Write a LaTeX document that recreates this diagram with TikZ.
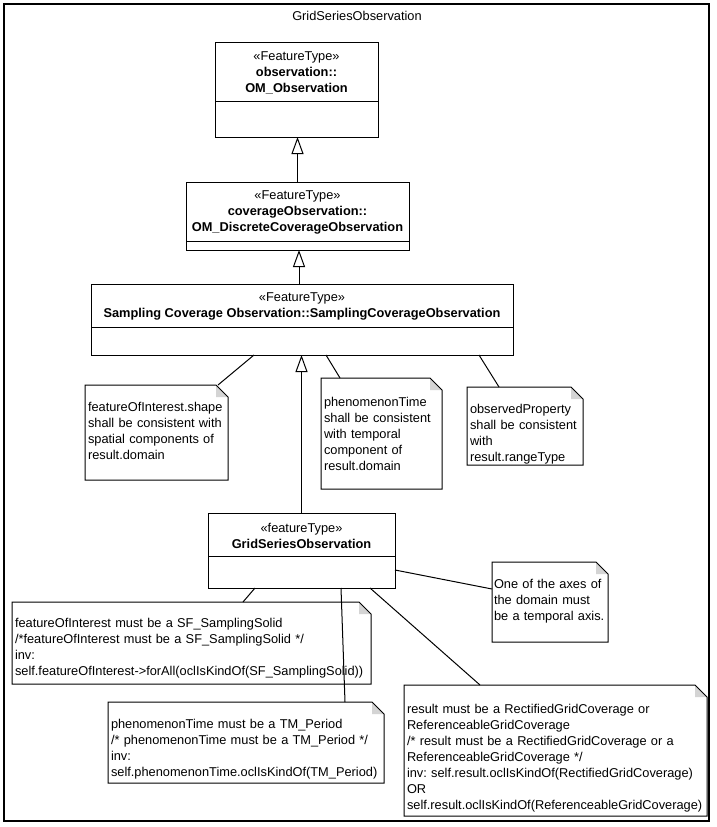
\documentclass[tikz,border=0pt]{standalone}
\usepackage{fontspec}
\setmainfont{Liberation Sans}
\usepackage{tikz}
\usetikzlibrary{arrows.meta,calc}
\definecolor{UMLfold}{HTML}{D4D4D4}
\newcommand{\umlfont}{\fontsize{12.8}{16}\selectfont\frenchspacing}
\hyphenpenalty=10000
\exhyphenpenalty=10000

\begin{document}
\begin{tikzpicture}[
    x=1pt,y=-1pt,
    font=\umlfont,
    line/.style={line width=1pt,black},
    frame/.style={line width=1.5pt,black},
    classbox/.style={draw,line width=1pt,fill=white,anchor=north west,inner sep=0pt,outer sep=0pt},
    head/.style={align=center,inner sep=0pt},
    note/.style={fill=white,anchor=north west,align=left,inner xsep=3pt,inner ysep=0pt,outer sep=0pt},
    gen/.style={line,-{Triangle[open,length=17pt,width=12pt,fill=white]}},
    link/.style={line}
  ]
    \useasboundingbox (0,0) rectangle (716,827);

    % package frame
    \draw[frame] (4,4) rectangle (709,821);
    \node (title) at (357,16) {GridSeriesObservation};

    % CLASSES
    \node[classbox,minimum width=163pt,minimum height=95pt] (omobs) at (215,42) {};
    \node[head] (omobs-head) at (296.5,73) {«FeatureType»\\\textbf{observation::}\\\textbf{OM\_Observation}};
    \draw[line] (omobs.west |- 0,101) -- (omobs.east |- 0,101);

    \node[classbox,minimum width=223pt,minimum height=68pt] (dco) at (186,182) {};
    \node[head] (dco-head) at (297.5,212) {«FeatureType»\\\textbf{coverageObservation::}\\\textbf{OM\_DiscreteCoverageObservation}};
    \draw[line] (dco.west |- 0,241) -- (dco.east |- 0,241);

    \node[classbox,minimum width=422pt,minimum height=71pt] (sco) at (91,284) {};
    \node[head] (sco-head) at (302,306.5) {«FeatureType»\\\textbf{Sampling Coverage Observation::SamplingCoverageObservation}};
    \draw[line] (sco.west |- 0,327) -- (sco.east |- 0,327);

    \node[classbox,minimum width=187pt,minimum height=75pt] (gso) at (208,513) {};
    \node[head] (gso-head) at (301.5,536) {«featureType»\\\textbf{GridSeriesObservation}};
    \draw[line] (gso.west |- 0,556) -- (gso.east |- 0,556);

    % NOTES
    \node[note,text width=137pt,text height=26pt,text depth=69pt] (fshape) at (85,385)
      {featureOfInterest.shape\\shall be consistent with\\spatial components of\\result.domain};
    \node[note,text width=115pt,text height=28pt,text depth=83pt] (ptime) at (321,378)
      {phenomenonTime\\shall be consistent\\with temporal\\component of\\result.domain};
    \node[note,text width=110pt,text height=26pt,text depth=52pt] (oprop) at (467,387)
      {observedProperty\\shall be consistent\\with\\result.rangeType};
    \node[note,inner xsep=2pt,text width=112pt,text height=26pt,text depth=54pt] (axes) at (492,562)
      {One of the axes of\\the domain must\\be a temporal axis.};
    \node[note,text width=353pt,text height=25pt,text depth=57pt] (fsolid) at (12,602)
      {featureOfInterest must be a SF\_SamplingSolid\\/*featureOfInterest must be a SF\_SamplingSolid */\\inv:\\self.featureOfInterest->forAll(oclIsKindOf(SF\_SamplingSolid))};
    \node[note,text width=270pt,text height=26pt,text depth=55pt] (period) at (108,702)
      {phenomenonTime must be a TM\_Period\\/* phenomenonTime must be a TM\_Period */\\inv:\\self.phenomenonTime.oclIsKindOf(TM\_Period)};
    \node[note,text width=297pt,text height=28pt,text depth=103pt] (result) at (404,685)
      {result must be a RectifiedGridCoverage or\\ReferenceableGridCoverage\\/* result must be a RectifiedGridCoverage or a\\ReferenceableGridCoverage */\\inv: self.result.oclIsKindOf(RectifiedGridCoverage)\\OR\\self.result.oclIsKindOf(ReferenceableGridCoverage)};

    % folded corners
    \foreach \n in {fshape,ptime,oprop,axes,fsolid,period,result}{
      \fill[UMLfold] ([xshift=-12pt]\n.north east) -- ([yshift=-12pt]\n.north east) -- ([xshift=-12pt,yshift=-12pt]\n.north east) -- cycle;
      \draw[line] (\n.north west) -- ([xshift=-12pt]\n.north east) -- ([yshift=-12pt]\n.north east) -- (\n.south east) -- (\n.south west) -- cycle;
    }

    % Generalizations
    \draw[gen] (dco.north) -- (dco.north |- omobs.south);
    \draw[gen] ([xshift=1.5pt]dco.north |- sco.north) -- ([xshift=1.5pt]dco.south);
    \draw[gen] (gso.north) -- (gso.north |- sco.south);

    % Note links
    \draw[link] ([xshift=163pt]sco.south west) -- ([xshift=-10pt]fshape.north east);
    \draw[link] ([xshift=235pt]sco.south west) -- ([xshift=19pt]ptime.north west);
    \draw[link] ([xshift=-34pt]sco.south east) -- ([xshift=32pt]oprop.north west);
    \draw[link] ([yshift=18pt]gso.south east) -- ([yshift=-27pt]axes.north west);
    \draw[link] ([xshift=47pt]gso.south west) -- ([xshift=231pt]fsolid.north west);
    \draw[link] ([xshift=133pt]gso.south west) -- ([xshift=237pt]period.north west);
    \draw[link] ([xshift=162pt]gso.south west) -- ([xshift=76pt]result.north west);
  \end{tikzpicture}
\end{document}
